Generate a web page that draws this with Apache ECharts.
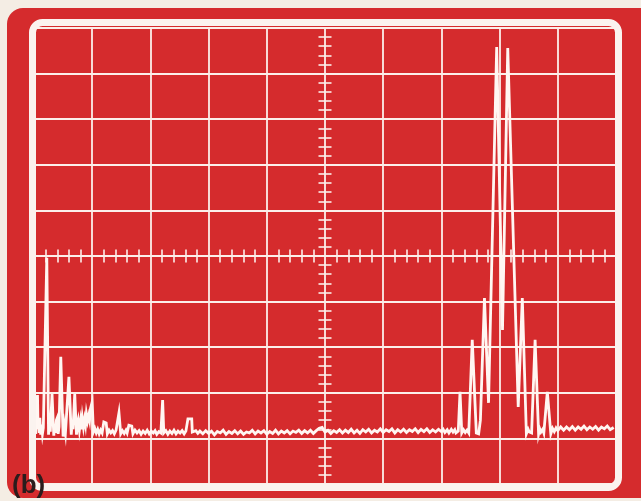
<!DOCTYPE html>
<html>
<head>
<meta charset="utf-8">
<script src="https://cdn.jsdelivr.net/npm/echarts@6/dist/echarts.min.js"></script>
<style>
  html, body { margin: 0; padding: 0; background: #f4ede4; }
  #chart { width: 641px; height: 501px; }
</style>
</head>
<body>
<div id="chart"></div>
<script>
// trace, in graticule divisions (x: 0..10 left to right, y: 0..10 bottom to top)
const leftTrace = [
  [0.03, 1.10], [0.045, 1.60], [0.06, 1.95], [0.07, 1.20], [0.08, 1.40], [0.09, 1.12], [0.10, 1.45],
  [0.115, 1.08], [0.13, 1.30], [0.145, 1.10], [0.16, 1.23], [0.22, 4.96], [0.25, 1.08], [0.265, 1.35],
  [0.28, 1.15], [0.31, 1.97], [0.34, 1.06], [0.355, 1.30], [0.37, 1.12], [0.385, 1.40], [0.40, 1.45],
  [0.415, 1.10], [0.43, 1.25], [0.46, 2.79], [0.50, 1.04], [0.52, 1.30], [0.54, 1.12], [0.60, 2.35],
  [0.64, 1.08], [0.655, 1.35], [0.67, 1.20], [0.70, 1.97], [0.73, 1.08], [0.745, 1.30], [0.76, 1.40],
  [0.78, 1.18], [0.80, 1.38], [0.815, 1.20], [0.83, 1.45], [0.85, 1.25], [0.87, 1.42], [0.885, 1.30],
  [0.90, 1.54], [0.92, 1.38], [0.94, 1.50], [0.955, 1.40], [0.97, 1.65], [1.00, 1.80], [1.02, 1.14],
  [1.045, 1.22], [1.07, 1.12], [1.095, 1.20], [1.12, 1.10], [1.145, 1.18], [1.17, 1.12], [1.20, 1.36],
  [1.24, 1.34], [1.26, 1.10], [1.29, 1.18], [1.32, 1.12], [1.35, 1.17], [1.38, 1.10], [1.41, 1.18],
  [1.43, 1.14], [1.46, 1.56], [1.49, 1.10], [1.52, 1.17], [1.55, 1.11], [1.58, 1.18], [1.60, 1.12],
  [1.63, 1.29], [1.68, 1.27], [1.70, 1.10], [1.735, 1.18], [1.77, 1.12], [1.805, 1.17], [1.84, 1.09],
  [1.875, 1.16], [1.91, 1.11], [1.945, 1.18], [1.98, 1.10], [2.015, 1.16], [2.05, 1.12], [2.08, 1.17],
  [2.11, 1.09], [2.145, 1.15], [2.18, 1.12], [2.21, 1.84], [2.23, 1.12], [2.265, 1.17], [2.30, 1.09],
  [2.335, 1.16], [2.37, 1.11], [2.405, 1.18], [2.44, 1.10], [2.475, 1.16], [2.51, 1.12], [2.545, 1.17],
  [2.58, 1.10], [2.61, 1.16], [2.63, 1.14], [2.645, 1.43], [2.71, 1.43], [2.72, 1.14], [2.75, 1.10],
  [2.78, 1.17], [2.815, 1.11], [2.85, 1.16]
]

const midTrace = [
  [2.90, 1.10], [2.95, 1.17], [3.00, 1.11], [3.05, 1.16], [3.10, 1.08], [3.15, 1.15], [3.20, 1.12],
  [3.25, 1.18], [3.30, 1.09], [3.35, 1.15], [3.40, 1.11], [3.45, 1.17], [3.50, 1.10], [3.55, 1.16],
  [3.60, 1.09], [3.65, 1.14], [3.70, 1.12], [3.75, 1.18], [3.80, 1.10], [3.85, 1.16], [3.90, 1.12],
  [3.95, 1.17], [4.00, 1.09], [4.05, 1.15], [4.10, 1.11], [4.15, 1.18], [4.20, 1.10], [4.25, 1.16],
  [4.30, 1.12], [4.35, 1.17], [4.40, 1.10], [4.45, 1.16], [4.50, 1.13], [4.55, 1.18], [4.60, 1.11],
  [4.65, 1.17], [4.70, 1.12], [4.75, 1.18], [4.80, 1.11], [4.85, 1.17], [4.90, 1.22], [4.95, 1.24],
  [5.00, 1.14], [5.05, 1.18], [5.10, 1.11], [5.15, 1.17], [5.20, 1.13], [5.25, 1.19], [5.30, 1.12],
  [5.35, 1.18], [5.40, 1.13], [5.45, 1.20], [5.50, 1.12], [5.55, 1.18], [5.60, 1.11], [5.65, 1.19],
  [5.70, 1.14], [5.75, 1.20], [5.80, 1.12], [5.85, 1.18], [5.90, 1.14], [5.95, 1.21], [6.00, 1.13],
  [6.05, 1.19], [6.10, 1.15], [6.15, 1.21], [6.20, 1.12], [6.25, 1.19], [6.30, 1.14], [6.35, 1.20],
  [6.40, 1.13], [6.45, 1.19], [6.50, 1.15], [6.55, 1.21], [6.60, 1.13], [6.65, 1.20], [6.70, 1.15],
  [6.75, 1.21], [6.80, 1.13], [6.85, 1.19], [6.90, 1.14], [6.95, 1.20], [7.00, 1.15]
]

const rightTrace = [
  [7.03, 1.20], [7.06, 1.13], [7.10, 1.19], [7.13, 1.12], [7.17, 1.20], [7.20, 1.14], [7.23, 1.19],
  [7.25, 1.12], [7.29, 1.16], [7.32, 2.02], [7.35, 1.12], [7.38, 1.19], [7.41, 1.13], [7.44, 1.18],
  [7.47, 1.12], [7.53, 3.16], [7.60, 1.12], [7.64, 1.10], [7.67, 1.40], [7.74, 4.08], [7.81, 1.78],
  [7.95, 9.58], [8.05, 3.38], [8.14, 9.56], [8.32, 1.69], [8.39, 4.08], [8.46, 1.10], [8.49, 1.20],
  [8.51, 1.14], [8.55, 1.12], [8.61, 3.16], [8.67, 1.10], [8.69, 1.21], [8.71, 1.14], [8.74, 1.20],
  [8.76, 1.12], [8.82, 2.02], [8.88, 1.10], [8.91, 1.22], [8.94, 1.15], [8.97, 1.23], [9.00, 1.17],
  [9.05, 1.25], [9.10, 1.18], [9.15, 1.25], [9.20, 1.19], [9.25, 1.26], [9.30, 1.18], [9.35, 1.25],
  [9.40, 1.20], [9.45, 1.27], [9.50, 1.19], [9.55, 1.25], [9.60, 1.20], [9.65, 1.26], [9.70, 1.18],
  [9.75, 1.25], [9.80, 1.21], [9.85, 1.27], [9.90, 1.19], [9.96, 1.24]
]

const trace = leftTrace.concat(midTrace, rightTrace)

const red = '#d52b2d'
const lineWhite = '#fcefea'

const chart = echarts.init(document.getElementById('chart'))
chart.setOption({
  animation: false,
  backgroundColor: 'transparent',
  grid: {
    left: 34, top: 28, width: 582, height: 456,
    show: true, backgroundColor: red, borderWidth: 0,
    outerBoundsMode: 'none'
  },
  graphic: [
    {
      type: 'rect', z: -10, silent: true,
      shape: {x: 7, y: 8, width: 660, height: 490, r: 16},
      style: {fill: red}
    },
    {
      type: 'rect', z: 100, silent: true,
      shape: {x: 32.5, y: 22.5, width: 586, height: 465, r: 10},
      style: {fill: null, stroke: '#fbf3ef', lineWidth: 7}
    },
    {
      type: 'text', z: 110, silent: true,
      x: 12, y: 473,
      style: {
        text: '(b)', fill: '#2b1c1c',
        font: 'bold 26px "Liberation Sans", Arial, sans-serif',
        verticalAlign: 'top'
      }
    }
  ],
  xAxis: [
    {
      type: 'value', min: 0, max: 10, interval: 1,
      axisLine: {show: false}, axisTick: {show: false}, axisLabel: {show: false},
      splitLine: {show: true, lineStyle: {color: lineWhite, width: 1.8}}
    },
    {
      // center horizontal graticule line, minor ticks only
      type: 'value', min: 0, max: 10, interval: 1, position: 'bottom', offset: -221.5,
      axisLine: {show: false}, axisLabel: {show: false}, splitLine: {show: false},
      axisTick: {show: false, inside: true},
      minorTick: {show: true, splitNumber: 5, length: 13, lineStyle: {color: lineWhite, width: 1.6}}
    }
  ],
  yAxis: [
    {
      type: 'value', min: 0, max: 10, interval: 1,
      axisLine: {show: false}, axisTick: {show: false}, axisLabel: {show: false},
      splitLine: {show: true, lineStyle: {color: lineWhite, width: 1.8}}
    },
    {
      type: 'value', min: 0, max: 10, interval: 1, position: 'left', offset: -284.5,
      axisLine: {show: false}, axisLabel: {show: false}, splitLine: {show: false},
      axisTick: {show: false, inside: true},
      minorTick: {show: true, splitNumber: 5, length: 13, lineStyle: {color: lineWhite, width: 1.6}}
    }
  ],
  series: [
    {
      type: 'line',
      xAxisIndex: 0, yAxisIndex: 0,
      data: trace,
      showSymbol: false,
      lineStyle: {color: '#fff6f2', width: 2.8, join: 'miter'},
      z: 5
    }
  ]
})
</script>
</body>
</html>
